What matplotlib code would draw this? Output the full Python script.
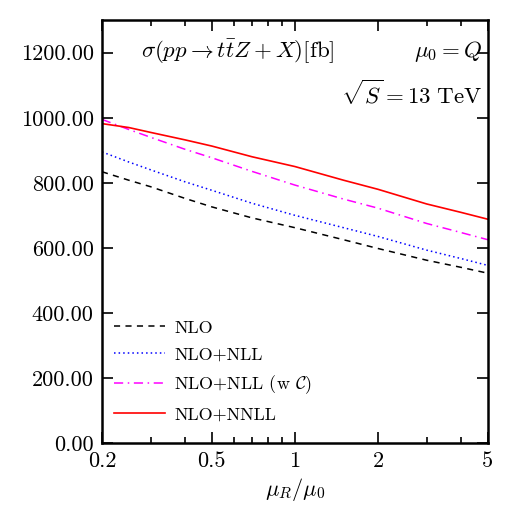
import numpy as np
import matplotlib
matplotlib.use("Agg")
import matplotlib.pyplot as plt
from matplotlib.ticker import FixedLocator, FuncFormatter, NullFormatter

plt.rcParams['font.family'] = 'serif'
plt.rcParams['font.serif'] = ['cmr10']
plt.rcParams['mathtext.fontset'] = 'cm'
plt.rcParams['axes.unicode_minus'] = False
plt.rcParams['axes.formatter.use_mathtext'] = True

# scale ratio mu_R / mu_0 and cross sections in fb
mu = [0.2, 0.25, 0.3, 0.4, 0.5, 0.7, 1.0, 1.5, 2.0, 3.0, 4.0, 5.0]
nlo = [834, 808, 788, 752, 726, 692, 662, 625, 598, 562, 540, 522]
nlo_nll = [895, 864, 840, 803, 777, 737, 700, 662, 635, 593, 567, 546]
nlo_nll_c = [995, 964, 940, 903, 877, 835, 793, 750, 722, 675, 647, 625]
nlo_nnll = [982, 970, 955, 932, 913, 880, 850, 808, 780, 735, 709, 688]

xticks = [0.2, 0.5, 1, 2, 5]
xminor = [0.3, 0.4, 0.6, 0.7, 0.8, 0.9, 3, 4]
yticks = [0, 200, 400, 600, 800, 1000, 1200]

fig = plt.figure(figsize=(5.19, 5.05), dpi=100)
ax = fig.add_axes([0.1965, 0.1228, 0.7435, 0.8372])

ax.plot(mu, nlo, color='black', ls=(0, (4, 3.5)), lw=1.1, label='NLO')
ax.plot(mu, nlo_nll, color='blue', ls=(0, (1, 2)), lw=1.1, label='NLO+NLL')
ax.plot(mu, nlo_nll_c, color='magenta', ls=(0, (6, 3, 1, 3)), lw=1.1,
        label=r'NLO+NLL (w $\mathcal{C}$)')
ax.plot(mu, nlo_nnll, color='red', ls='-', lw=1.2, label='NLO+NNLL')

ax.set_xscale('log')
ax.set_xlim(0.2, 5)
ax.set_ylim(0, 1300)
ax.xaxis.set_major_locator(FixedLocator(xticks))
ax.xaxis.set_minor_locator(FixedLocator(xminor))
ax.xaxis.set_major_formatter(FuncFormatter(lambda v, p: '%g' % v))
ax.xaxis.set_minor_formatter(NullFormatter())
ax.yaxis.set_major_locator(FixedLocator(yticks))
ax.yaxis.set_major_formatter(FuncFormatter(lambda v, p: '%.2f' % v))

ax.tick_params(which='both', direction='in', top=True, right=True,
               labelsize=16, width=1.2)
ax.tick_params(which='major', length=8, pad=6)
ax.tick_params(which='minor', length=4)
for s in ax.spines.values():
    s.set_linewidth(1.8)

ax.set_xlabel(r'$\mu_R/\mu_0$', fontsize=16, labelpad=4)

ax.text(0.352, 0.925, r'$\sigma(pp\rightarrow t\bar{t}Z+X)[\mathrm{fb}]$',
        transform=ax.transAxes, ha='center', va='center', fontsize=16.5)
ax.text(0.985, 0.925, r'$\mu_0=Q$', transform=ax.transAxes,
        ha='right', va='center', fontsize=16.5)
ax.text(0.985, 0.826, r'$\sqrt{S}=13\ \mathrm{TeV}$', transform=ax.transAxes,
        ha='right', va='center', fontsize=16.5)

ax.legend(loc='lower left', frameon=False, fontsize=13, handlelength=2.8,
          handletextpad=0.5, labelspacing=0.6, borderaxespad=0.4,
          bbox_to_anchor=(-0.005, 0.015))

fig.savefig('out.png', dpi=100)
